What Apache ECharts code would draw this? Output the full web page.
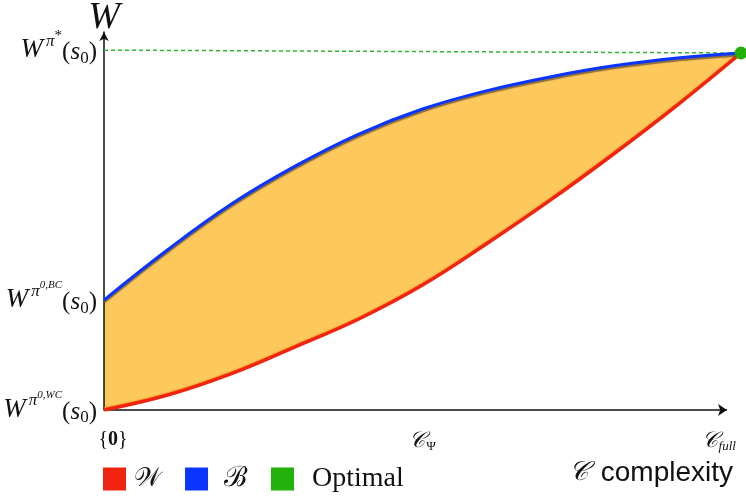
<!DOCTYPE html>
<html>
<head>
<meta charset="utf-8">
<script src="https://cdn.jsdelivr.net/npm/echarts@6/dist/echarts.min.js"></script>
<style>
html, body { margin: 0; padding: 0; background: #fff; }
#chart { width: 746px; height: 501px; }
</style>
</head>
<body>
<div id="chart"></div>
<script>
// complexity: 0 = {0}, 1 = C_full ; welfare: 0 = W^{0,WC}, 1 = W^{*}
var complexity = [0, 0.1, 0.2, 0.3, 0.4, 0.5, 0.6, 0.7, 0.8, 0.9, 1.0];
var bestWelfare = [0.308, 0.449, 0.577, 0.683, 0.773, 0.843, 0.894, 0.933, 0.964, 0.986, 1.0];
var worstWelfare = [0, 0.042, 0.102, 0.177, 0.255, 0.35, 0.465, 0.587, 0.717, 0.854, 1.0];
var optimalPoint = [1.0, 1.0];
var optimalLevel = [[0, 1.008], [1.0, 1.0]];
var xAxisArrow = [[0, 0], [0.978, 0]];
var yTickValues = [0, 0.308, 1.008];
var yTickLabels = [
  '{w|W}{pi|π}{sup|0,WC}{p|(}{s|s}{sub|0}{p|)}',
  '{w|W}{pi|π}{sup|0,BC}{p|(}{s|s}{sub|0}{p|)}',
  '{w|W}{pi|π}{star|*}{p|(}{s|s}{sub|0}{p|)}'
];
var xTickValues = [0, 0.5, 0.965];
var xTickLabels = ['{bl|{}{bz|0}}', '{c|𝒞}{sub|Ψ}', '{c|𝒞}{subi|full}'];

var serif = '"Liberation Serif", "DejaVu Serif", serif';
var ink = '#111';

function zip(xs, ys) {
  return xs.map(function (x, i) { return [x, ys[i]]; });
}

var chart = echarts.init(document.getElementById('chart'));
chart.setOption({
  animation: false,
  grid: { left: 104, right: 5, top: 32, bottom: 91, outerBoundsMode: 'none' },
  xAxis: {
    type: 'value',
    min: 0,
    max: 1,
    splitLine: { show: false },
    axisTick: { show: false },
    axisLine: { show: false },
    axisLabel: {
      customValues: xTickValues,
      margin: 20,
      color: ink,
      fontFamily: serif,
      fontSize: 20,
      formatter: function (v) {
        var i = xTickValues.indexOf(v);
        return i < 0 ? '' : xTickLabels[i];
      },
      rich: {
        bl: { fontFamily: serif, fontSize: 20, color: ink, padding: [0, 0, 0, 18] },
        bz: { fontFamily: serif, fontSize: 20, fontWeight: 'bold', color: ink },
        c: { fontFamily: serif, fontSize: 22, fontStyle: 'italic', color: ink, padding: [0, 0, 6, 0] },
        sub: { fontFamily: serif, fontSize: 13, color: ink, padding: [6, 0, 0, 1] },
        subi: { fontFamily: serif, fontSize: 13, fontStyle: 'italic', color: ink, padding: [6, 0, 0, 1] }
      }
    }
  },
  yAxis: {
    type: 'value',
    min: 0,
    max: 1.0588,
    z: 3,
    name: 'W',
    nameGap: -5,
    nameMoveOverlap: false,
    nameTextStyle: { fontFamily: serif, fontStyle: 'italic', fontSize: 38, color: ink },
    splitLine: { show: false },
    axisTick: { show: false },
    axisLine: { lineStyle: { color: ink, width: 1.5 }, symbol: ['none', 'arrow'], symbolSize: [7, 9] },
    axisLabel: {
      customValues: yTickValues,
      margin: 7,
      color: ink,
      formatter: function (v) {
        var i = yTickValues.indexOf(v);
        return i < 0 ? '' : yTickLabels[i];
      },
      rich: {
        w: { fontFamily: serif, fontStyle: 'italic', fontSize: 27, color: ink },
        pi: { fontFamily: serif, fontStyle: 'italic', fontSize: 17, color: ink, padding: [0, 0, 18, 3] },
        sup: { fontFamily: serif, fontStyle: 'italic', fontSize: 11, color: ink, padding: [0, 0, 30, 0] },
        star: { fontFamily: serif, fontSize: 15, color: ink, padding: [0, 0, 28, 0] },
        p: { fontFamily: serif, fontSize: 25, color: ink, padding: [4, 0, 0, 0] },
        s: { fontFamily: serif, fontStyle: 'italic', fontSize: 25, color: ink, padding: [4, 0, 0, 0] },
        sub: { fontFamily: serif, fontSize: 17, color: ink, padding: [16, 0, 0, 0] }
      }
    }
  },
  legend: {
    data: [
      { name: '𝒲' },
      { name: 'ℬ', textStyle: { fontSize: 28, padding: [0, 0, 0, 11] } },
      { name: 'Optimal', textStyle: { fontSize: 28, padding: [0, 0, 0, 13] } }
    ],
    left: 98,
    top: 460,
    icon: 'rect',
    itemWidth: 23,
    itemHeight: 23,
    itemGap: 24,
    itemStyle: { opacity: 1 },
    textStyle: { fontFamily: serif, fontSize: 26, color: ink, padding: [0, 0, 0, 3] }
  },
  graphic: [
    {
      type: 'text',
      left: 357 - 60,
      top: 184,
      style: {
        text: 'Possible\nSPE welfare',
        width: 120,
        align: 'center',
        fontFamily: serif,
        fontSize: 23,
        lineHeight: 33,
        fill: '#fff'
      }
    },
    {
      type: 'text',
      right: 13,
      top: 459,
      style: {
        text: '{c|𝒞}{t|complexity}',
        rich: {
          c: { fontFamily: serif, fontStyle: 'italic', fontSize: 27, fill: ink, padding: [0, 12, 0, 0] },
          t: { fontFamily: '"Liberation Sans", Arial, sans-serif', fontSize: 28, fill: ink }
        }
      }
    }
  ],
  series: [
    {
      name: 'band',
      type: 'line',
      smooth: 0.4,
      symbol: 'none',
      silent: true,
      z: 1,
      lineStyle: { width: 0, opacity: 0 },
      areaStyle: { color: '#fdc85c', opacity: 1, origin: 'start' },
      data: zip(complexity, bestWelfare)
    },
    {
      name: 'bandCut',
      type: 'line',
      smooth: 0.4,
      symbol: 'none',
      silent: true,
      z: 2,
      lineStyle: { width: 0, opacity: 0 },
      areaStyle: { color: '#fff', opacity: 1, origin: 'start' },
      data: zip(complexity, worstWelfare)
    },
    {
      name: 'level',
      type: 'line',
      symbol: 'none',
      silent: true,
      z: 4,
      lineStyle: { color: '#2fb52f', width: 1.5, type: [4, 3] },
      data: optimalLevel,
      markLine: {
        silent: true,
        symbol: ['none', 'arrow'],
        symbolSize: [9, 9],
        label: { show: false },
        emphasis: { disabled: true },
        lineStyle: { color: ink, width: 1.5, type: 'solid' },
        data: [[{ coord: xAxisArrow[0] }, { coord: xAxisArrow[1] }]]
      }
    },
    {
      name: '𝒲',
      type: 'line',
      smooth: 0.4,
      symbol: 'none',
      z: 5,
      color: '#f0240f',
      lineStyle: { color: '#f0240f', width: 3.5, shadowColor: 'rgba(240,150,30,0.8)', shadowOffsetY: -1, shadowBlur: 1 },
      data: zip(complexity, worstWelfare)
    },
    {
      name: 'ℬ',
      type: 'line',
      smooth: 0.4,
      symbol: 'none',
      z: 5,
      color: '#0a34ff',
      lineStyle: { color: '#0a34ff', width: 3, shadowColor: 'rgba(110,85,50,0.8)', shadowOffsetY: 2, shadowBlur: 1 },
      data: zip(complexity, bestWelfare)
    },
    {
      name: 'Optimal',
      type: 'scatter',
      symbolSize: 13,
      z: 6,
      color: '#22b00a',
      itemStyle: { color: '#22b00a', opacity: 1 },
      data: [optimalPoint]
    }
  ]
});
</script>
</body>
</html>
